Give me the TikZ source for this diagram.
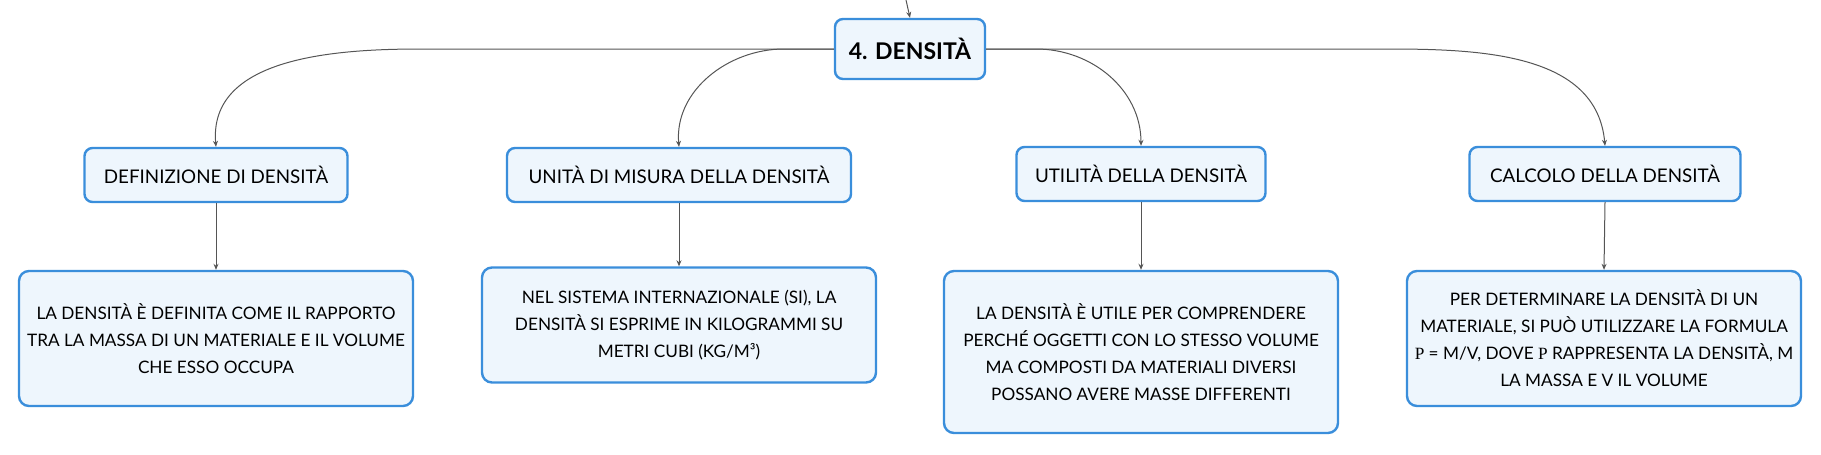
\documentclass[tikz,border=0pt]{standalone}
\usepackage{fontspec}
\setmainfont{Lato}
\newfontfamily\rhofont{Liberation Serif}
\usepackage{xcolor}
\usepackage{tikz}
\usetikzlibrary{arrows.meta}
\definecolor{custom_blue}{HTML}{3A8EDB}
\definecolor{custom_fill}{HTML}{EEF6FD}
\definecolor{custom_gray}{HTML}{555555}

\begin{document}
\begin{tikzpicture}[x=0.5pt, y=-0.5pt, >={Stealth[length=3pt,width=2.5pt]},
  every node/.style={font=\fontsize{8.6}{13.5}\selectfont, text=black},
  root_box/.style={draw=custom_blue, fill=custom_fill, line width=1.2pt, rounded corners=4pt,
    minimum width=75pt, minimum height=30pt, font=\fontsize{11.5}{12}\selectfont\bfseries},
  topic_box/.style={draw=custom_blue, fill=custom_fill, line width=1.2pt, rounded corners=4pt,
    minimum height=27pt, font=\fontsize{9.4}{12}\selectfont},
  info_box/.style={draw=custom_blue, fill=custom_fill, line width=1.2pt, rounded corners=5pt,
    minimum width=197pt, align=center},
  link/.style={->, custom_gray, line width=0.5pt}]

  \useasboundingbox (0,0) rectangle (1821,455);

  \node[root_box] (root) at (910,49) {4. DENSITÀ};
  \coordinate (parent) at (906,0);

  \node[topic_box, minimum width=131.5pt] (def)  at (216,175)  {DEFINIZIONE DI DENSITÀ};
  \node[topic_box, minimum width=172pt]   (unit) at (679,175)  {UNITÀ DI MISURA DELLA DENSITÀ};
  \node[topic_box, minimum width=124.5pt] (util) at (1141,174) {UTILITÀ DELLA DENSITÀ};
  \node[topic_box, minimum width=135.5pt] (calc) at (1605,174) {CALCOLO DELLA DENSITÀ};

  \node[info_box, minimum height=67.5pt] (def_text) at (216,338.5)
    {LA DENSITÀ È DEFINITA COME IL RAPPORTO\\TRA LA MASSA DI UN MATERIALE E IL VOLUME\\CHE ESSO OCCUPA};
  \node[info_box, minimum height=57.5pt] (unit_text) at (679,325)
    {NEL SISTEMA INTERNAZIONALE (SI), LA\\DENSITÀ SI ESPRIME IN KILOGRAMMI SU\\METRI CUBI (KG/M³)};
  \node[info_box, minimum height=81pt] (util_text) at (1141,352)
    {LA DENSITÀ È UTILE PER COMPRENDERE\\PERCHÉ OGGETTI CON LO STESSO VOLUME\\MA COMPOSTI DA MATERIALI DIVERSI\\POSSANO AVERE MASSE DIFFERENTI};
  \node[info_box, minimum height=67.5pt] (calc_text) at (1604,338.5)
    {PER DETERMINARE LA DENSITÀ DI UN\\MATERIALE, SI PUÒ UTILIZZARE LA FORMULA\\{\rhofont Ρ} = M/V, DOVE {\rhofont Ρ} RAPPRESENTA LA DENSITÀ, M\\LA MASSA E V IL VOLUME};

  \draw[link] (parent) -- (root.north);

  \draw[link] (root.west) -- (421,49) to[out=180, in=95] (def.north);
  \draw[link] (root.west) -- (784,49) to[out=180, in=95] (unit.north);
  \draw[link] (root.east) -- (1036,49) to[out=0, in=90] (util.north);
  \draw[link] (root.east) -- (1386,49) to[out=0, in=95] (calc.north);

  \foreach \a in {def, unit, util, calc}
    \draw[link] (\a.south) -- (\a_text.north);

\end{tikzpicture}
\end{document}
